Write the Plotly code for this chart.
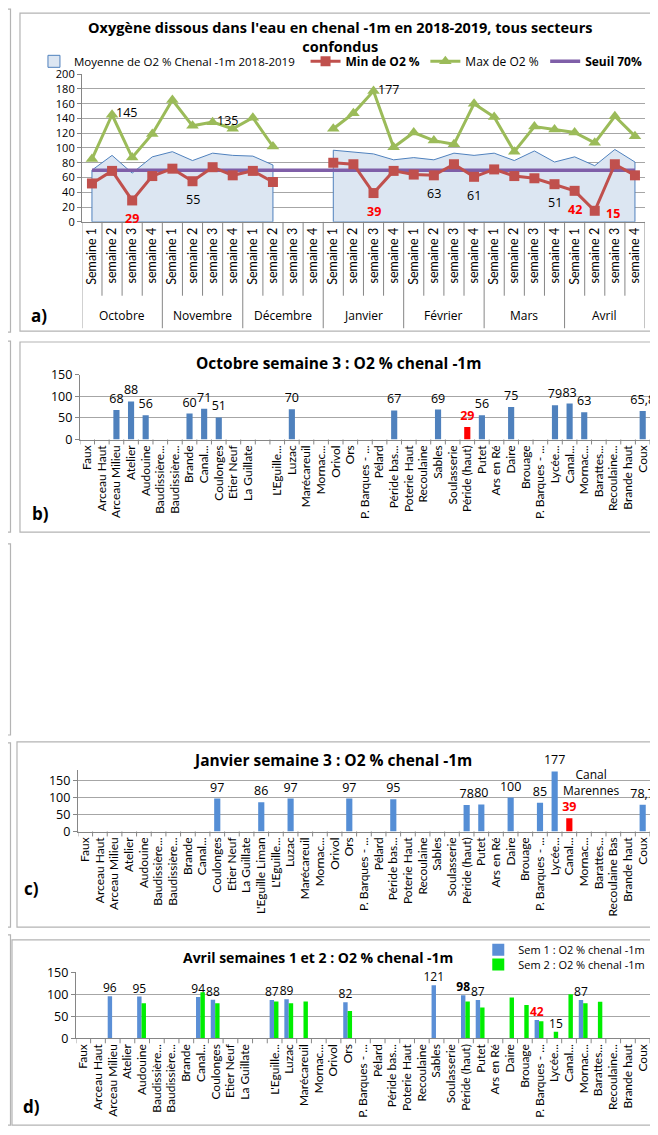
import plotly.graph_objects as go

# page body has an 8px margin: work in reference pixels and shift
OFF = 8
W, H = 658 - OFF, 1135 - OFF
def fx(px): return (px - OFF) / W
def fy(py): return 1 - (py - OFF) / H

FONT_V = "Lato, Carlito, 'Liberation Sans', Arial, sans-serif"      # rotated tick labels
FONT_H = "'Open Sans', Carlito, 'Liberation Sans', Arial, sans-serif"  # horizontal texts
GRID = "#a6a6a6"
AXIS = "#868686"
FRAME = "#b4b4b4"

# ---------------- Panel a data ----------------
months = ["Octobre", "Novembre", "Décembre", "Janvier", "Février", "Mars", "Avril"]
weeks = ["Semaine 1", "semaine 2", "semaine 3", "semaine 4"]
moyenne = [70, 90, 66, 88, 95, 83, 93, 90, 89, 77, None, None,
           97, 94, 92, 84, 87, 84, 93, 90, 93, 83, 96, 81, 88, 76, 98, 81]
o2_min = [52, 69, 29, 62, 72, 55, 74, 63, 69, 54, None, None,
          80, 78, 39, 69, 64, 63, 78, 61, 71, 62, 59, 51, 42, 15, 78, 63]
o2_max = [85, 145, 87, 119, 165, 130, 135, 126, 141, 102, None, None,
          126, 147, 177, 101, 121, 110, 105, 160, 142, 95, 129, 125, 121, 107, 143, 116]
seuil = [70, 70, 70, 70, 70, 70, 70, 70, 70, 70, 70, 70, 70, 70,
         70, 70, 70, 70, 70, 70, 70, 70, 70, 70, 70, 70, 70, 70]
max_labelled = [1, 6, 14]
min_labelled = [2, 5, 14, 17, 19, 23, 24, 25]
min_label_right = [25]

# ---------------- Panels b, c, d data ----------------
labels_b = ["Faux", "Arceau Haut", "Arceau Milieu", "Atelier", "Audouine", "Baudissière...",
            "Baudissière...", "Brande", "Canal...", "Coulonges", "Etier Neuf", "La Guillate", "",
            "L'Eguille...", "Luzac", "Marécareuil", "Mornac...", "Orivol", "Ors", "P. Barques - ...",
            "Pélard", "Péride bas...", "Poterie Haut", "Recoulaine", "Sables", "Soulasserie",
            "Péride (haut)", "Putet", "Ars en Ré", "Daire", "Brouage", "P. Barques - ...", "Lycée...",
            "Canal...", "Mornac...", "Barattes...", "Recoulaine...", "Brande haut", "Coux"]
labels_c = ["Faux", "Arceau Haut", "Arceau Milieu", "Atelier", "Audouine", "Baudissière...",
            "Baudissière...", "Brande", "Canal...", "Coulonges", "Etier Neuf", "La Guillate",
            "L'Eguille Liman", "L'Eguille...", "Luzac", "Marécareuil", "Mornac...", "Orivol", "Ors",
            "P. Barques - ...", "Pélard", "Péride bas...", "Poterie Haut", "Recoulaine", "Sables",
            "Soulasserie", "Péride (haut)", "Putet", "Ars en Ré", "Daire", "Brouage",
            "P. Barques - ...", "Lycée...", "Canal...", "Mornac...", "Barattes...", "Recoulaine Bas",
            "Brande haut", "Coux"]
labels_d = labels_b

octobre_s3 = [None, None, 68, 88, 56, None, None, 60, 71, 51, None, None, None, None, 70, None,
              None, None, None, None, None, 67, None, None, 69, None, 29, 56, None, 75, None, None,
              79, 83, 63, None, None, None, 65.8]
janvier_s3 = [None, None, None, None, None, None, None, None, None, 97, None, None, 86, None, 97,
              None, None, None, 97, None, None, 95, None, None, None, None, 78, 80, None, 100, None,
              85, 177, 39, None, None, None, None, 78.7]
avril_s1 = [None, None, 96, None, 95, None, None, None, 94, 88, None, None, None, 87, 89, None,
            None, None, 82, None, None, None, None, None, 121, None, 98, 87, None, None, None, 42,
            None, None, 87, None, None, None, None]
avril_s2 = [None, None, None, None, 80, None, None, None, 105, 80, None, None, None, 84, 80, 84,
            None, None, 62, None, None, None, None, None, None, None, 84, 70, None, 93, 76, 39,
            15, 100, 80, 83, None, None, None]
avril_s2_labelled = [32]
avril_s1_bold = [26]


def fmt(v):
    return ("%g" % v).replace(".", ",")


fig = go.Figure()
shapes = []
ann = []

# ================= Panel a =================
idx_a = list(range(len(moyenne)))
segs, cur = [], []
for i, v in enumerate(moyenne):
    if v is None:
        if cur:
            segs.append(cur)
            cur = []
    else:
        cur.append(i)
if cur:
    segs.append(cur)
for seg in segs:
    xs = seg + [seg[-1], seg[0], seg[0]]
    ys = [moyenne[i] for i in seg] + [0, 0, moyenne[seg[0]]]
    fig.add_trace(go.Scatter(x=xs, y=ys, fill="toself", fillcolor="#dce6f2",
                             line=dict(color="#4f81bd", width=1), mode="lines",
                             showlegend=False, hoverinfo="skip", xaxis="x", yaxis="y"))
# legend entry (box symbol) for the area
fig.add_trace(go.Bar(x=[None], y=[None], marker=dict(color="#dce6f2", line=dict(color="#4f81bd", width=1)),
                     name="Moyenne de O2 % Chenal -1m 2018-2019", legend="legend",
                     xaxis="x", yaxis="y"))

fig.add_trace(go.Scatter(x=idx_a, y=seuil, mode="lines", line=dict(color="#7f5fa8", width=3.5),
                         name="<b>Seuil 70%</b>", legend="legend5", xaxis="x", yaxis="y"))
fig.add_trace(go.Scatter(x=idx_a, y=o2_max, mode="lines+markers",
                         line=dict(color="#9bbb59", width=3),
                         marker=dict(symbol="triangle-up", size=11, color="#9bbb59"),
                         name="Max de O2 %", legend="legend4", xaxis="x", yaxis="y",
                         cliponaxis=False))
fig.add_trace(go.Scatter(x=idx_a, y=o2_min, mode="lines+markers",
                         line=dict(color="#c0504d", width=3),
                         marker=dict(symbol="square", size=10, color="#c0504d"),
                         name="<b>Min de O2 %</b>", legend="legend3", xaxis="x", yaxis="y",
                         cliponaxis=False))

# data labels of panel a
for i in max_labelled:
    ann.append(dict(x=idx_a[i], y=o2_max[i], xref="x", yref="y", text=str(o2_max[i]),
                    xanchor="left", yanchor="middle", xshift=2, yshift=2, showarrow=False,
                    font=dict(size=12.5, color="black", family=FONT_H)))
for i in min_labelled:
    v = o2_min[i]
    red = v < 50
    txt = "<b>%d</b>" % v if red else str(v)
    col = "#ff0000" if red else "black"
    if i in min_label_right:
        ann.append(dict(x=idx_a[i], y=v, xref="x", yref="y", text=txt, xanchor="left",
                        yanchor="middle", xshift=9, yshift=-3, showarrow=False,
                        font=dict(size=12.5, color=col, family=FONT_H)))
    else:
        ann.append(dict(x=idx_a[i], y=v, xref="x", yref="y", text=txt, xanchor="center",
                        yanchor="top", yshift=-8, showarrow=False,
                        font=dict(size=12.5, color=col, family=FONT_H)))

tick_a = [w for m in months for w in weeks]
nA = len(tick_a)
for i in range(nA + 1):
    long_line = (i % 4 == 0)
    shapes.append(dict(type="line", xref="x", yref="paper", x0=i - 0.5, x1=i - 0.5,
                       y0=fy(216), y1=fy(324 if long_line else 291),
                       line=dict(color=AXIS, width=1)))
for k, m in enumerate(months):
    ann.append(dict(x=4 * k + 1.5, y=fy(311), xref="x", yref="paper", text=m,
                    xanchor="center", yanchor="middle", showarrow=False,
                    font=dict(size=12, color="black", family=FONT_H)))

ann.append(dict(x=fx(340), y=fy(28), xref="paper", yref="paper", xanchor="center", yanchor="middle",
                text="<b>Oxygène dissous dans l'eau en chenal -1m en 2018-2019, tous secteurs<br>confondus</b>",
                showarrow=False, font=dict(size=14.5, color="black", family=FONT_H)))
ann.append(dict(x=fx(38), y=fy(311), xref="paper", yref="paper", text="<b>a)</b>",
                xanchor="center", yanchor="middle",
                showarrow=False, font=dict(size=17, color="black", family=FONT_H)))


# ================= Panels b, c, d =================
def cat_axis(dom_px, n, labels):
    return dict(domain=[fx(dom_px[0]), fx(dom_px[1])], range=[-0.5, n - 0.5],
                tickmode="array", tickvals=list(range(n)), ticktext=labels, tickangle=-90,
                tickfont=dict(size=12, color="black", family=FONT_V), ticks="",
                showline=True, linecolor=AXIS, showgrid=False, zeroline=False, fixedrange=True)


def val_axis(dom_py, rng, dtick, tickvals=None, size=12.5):
    d = dict(domain=[fy(dom_py[0]), fy(dom_py[1])], range=rng, dtick=dtick,
             showgrid=True, gridcolor=GRID, gridwidth=1, showline=True, linecolor=AXIS,
             ticks="outside", ticklen=4, tickcolor=AXIS, zeroline=False,
             tickfont=dict(size=size, color="black", family=FONT_H))
    if tickvals is not None:
        d["tickmode"] = "array"
        d["tickvals"] = tickvals
    return d


def boundary_ticks(xref, ypx, n):
    for i in range(n + 1):
        shapes.append(dict(type="line", xref=xref, yref="paper", x0=i - 0.5, x1=i - 0.5,
                           y0=fy(ypx), y1=fy(ypx + 5), line=dict(color=AXIS, width=1)))


def title(text, xpx, ypx, size=15.5):
    ann.append(dict(x=fx(xpx), y=fy(ypx), xref="paper", yref="paper", xanchor="center",
                    yanchor="middle", text="<b>%s</b>" % text, showarrow=False,
                    font=dict(size=size, color="black", family=FONT_H)))


def panel_tag(text, xpx, ypx):
    ann.append(dict(x=fx(xpx), y=fy(ypx), xref="paper", yref="paper", xanchor="center",
                    yanchor="middle", text="<b>%s</b>" % text, showarrow=False,
                    font=dict(size=17, color="black", family=FONT_H)))


n_st = len(labels_b)
idx_s = list(range(n_st))

# Panel b
b_min = min(v for v in octobre_s3 if v is not None)
b_col = ["#ff0000" if v == b_min else "#4f81bd" for v in octobre_s3]
b_txt = ["" if v is None else ("<b>%s</b>" % fmt(v) if v == b_min else fmt(v)) for v in octobre_s3]
b_tcol = ["#ff0000" if v == b_min else "black" for v in octobre_s3]
fig.add_trace(go.Bar(x=idx_s, y=octobre_s3, width=0.42, marker=dict(color=b_col, line=dict(width=0)),
                     text=b_txt, textposition="outside", textangle=0, constraintext="none",
                     textfont=dict(size=12.5, color=b_tcol, family=FONT_H), cliponaxis=False,
                     showlegend=False, xaxis="x2", yaxis="y2"))
boundary_ticks("x2", 437, n_st)
title("Octobre semaine 3 : O2 % chenal -1m", 338, 359)
panel_tag("b)", 40, 512)

# Panel c
c_min = min(v for v in janvier_s3 if v is not None)
c_col = ["#ff0000" if v == c_min else "#558ed5" for v in janvier_s3]
c_txt = ["" if v is None else ("<b>%s</b>" % fmt(v) if v == c_min else fmt(v)) for v in janvier_s3]
c_tcol = ["#ff0000" if v == c_min else "black" for v in janvier_s3]
fig.add_trace(go.Bar(x=idx_s, y=janvier_s3, width=0.42, marker=dict(color=c_col, line=dict(width=0)),
                     text=c_txt, textposition="outside", textangle=0, constraintext="none",
                     textfont=dict(size=12.5, color=c_tcol, family=FONT_H), cliponaxis=False,
                     showlegend=False, xaxis="x3", yaxis="y3"))
c_min_i = janvier_s3.index(c_min)
ann.append(dict(x=c_min_i - 0.55, y=fy(785), xref="x3", yref="paper", text="Canal<br>Marennes",
                showarrow=False, xanchor="left", yanchor="middle",
                font=dict(size=12, color="black", family=FONT_H)))
boundary_ticks("x3", 835, n_st)
title("Janvier semaine 3 : O2 % chenal -1m", 332, 762)
panel_tag("c)", 31, 893)

# Panel d
d1_min = min(v for v in avril_s1 if v is not None)
d1_txt, d1_tcol = [], []
for i, v in enumerate(avril_s1):
    if v is None:
        d1_txt.append("")
        d1_tcol.append("black")
    elif v == d1_min:
        d1_txt.append("<b>%s</b>" % fmt(v))
        d1_tcol.append("#ff0000")
    elif i in avril_s1_bold:
        d1_txt.append("<b>%s</b>" % fmt(v))
        d1_tcol.append("black")
    else:
        d1_txt.append(fmt(v))
        d1_tcol.append("black")
d2_txt = [fmt(v) if (i in avril_s2_labelled and v is not None) else "" for i, v in enumerate(avril_s2)]
fig.add_trace(go.Bar(x=idx_s, y=avril_s1, width=0.3, offset=-0.34,
                     marker=dict(color="#5b8fd6", line=dict(width=0)),
                     text=d1_txt, textposition="outside", textangle=0, constraintext="none",
                     textfont=dict(size=12, color=d1_tcol, family=FONT_H), cliponaxis=False,
                     name="Sem 1 : O2 % chenal -1m", legend="legend2", xaxis="x4", yaxis="y4"))
fig.add_trace(go.Bar(x=idx_s, y=avril_s2, width=0.3, offset=-0.04,
                     marker=dict(color="#00ee00", line=dict(width=0)),
                     text=d2_txt, textposition="outside", textangle=0, constraintext="none",
                     textfont=dict(size=12, color="black", family=FONT_H), cliponaxis=False,
                     name="Sem 2 : O2 % chenal -1m", legend="legend6", xaxis="x4", yaxis="y4"))
boundary_ticks("x4", 1045, n_st)
title("Avril semaines 1 et 2 : O2 % chenal -1m", 317, 963, size=14)
panel_tag("d)", 31, 1114)

# ================= frames =================
frames = [(19, 4, 652, 327), (19, 338, 654, 531), (16, 744, 652, 932), (11, 945, 652, 1133)]
for (x0, y0, x1, y1) in frames:
    shapes.append(dict(type="rect", xref="paper", yref="paper", x0=fx(x0), x1=fx(x1),
                       y0=fy(y0), y1=fy(y1), line=dict(color=FRAME, width=1.2), layer="below"))
for (y0, y1) in [(0, 328), (337, 531), (543, 737), (745, 932), (940, 1133)]:
    shapes.append(dict(type="rect", xref="paper", yref="paper", x0=fx(-30), x1=fx(9.5),
                       y0=fy(y0), y1=fy(y1), line=dict(color=FRAME, width=1.2)))

legend_common = dict(bgcolor="rgba(0,0,0,0)", font=dict(size=12, color="black", family=FONT_H),
                     orientation="h", xanchor="left", yanchor="middle", itemwidth=30)
legend_first = dict(legend_common, font=dict(size=11.5, color="black", family=FONT_H))
legend_d = dict(bgcolor="rgba(0,0,0,0)", font=dict(size=11, color="black", family=FONT_H),
                orientation="h", xanchor="left", yanchor="middle", itemwidth=30)

fig.update_layout(
    width=W, height=H, margin=dict(l=0, r=0, t=0, b=0),
    paper_bgcolor="white", plot_bgcolor="white",
    font=dict(family=FONT_H, color="black"),
    barmode="overlay",
    xaxis=dict(domain=[fx(81), fx(645)], range=[-0.5, nA - 0.5], tickmode="array",
               tickvals=list(range(nA)), ticktext=tick_a, tickangle=-90, ticks="",
               tickfont=dict(size=12.5, color="black", family=FONT_V), showline=True,
               linecolor=AXIS, showgrid=False, zeroline=False, anchor="y"),
    yaxis=dict(val_axis((216, 66), [0, 200], 20, size=11), anchor="x"),
    xaxis2=dict(cat_axis((79, 650), n_st, labels_b), anchor="y2"),
    yaxis2=dict(val_axis((437, 371), [0, 150], 50), anchor="x2"),
    xaxis3=dict(cat_axis((77, 650), n_st, labels_c), anchor="y3"),
    yaxis3=dict(val_axis((835, 773), [0, 180], 50, tickvals=[0, 50, 100, 150]), anchor="x3"),
    xaxis4=dict(cat_axis((75, 650), n_st, labels_d), anchor="y4"),
    yaxis4=dict(val_axis((1045, 978), [0, 150], 50), anchor="x4"),
    legend=dict(x=fx(33), y=fy(53), **legend_first),
    legend3=dict(x=fx(305), y=fy(53), **legend_common),
    legend4=dict(x=fx(425), y=fy(53), **legend_common),
    legend5=dict(x=fx(545), y=fy(53), **legend_common),
    legend2=dict(x=fx(478), y=fy(955), **legend_d),
    legend6=dict(x=fx(478), y=fy(970), **legend_d),
    shapes=shapes, annotations=ann,
)

fig.write_html("out.html")
